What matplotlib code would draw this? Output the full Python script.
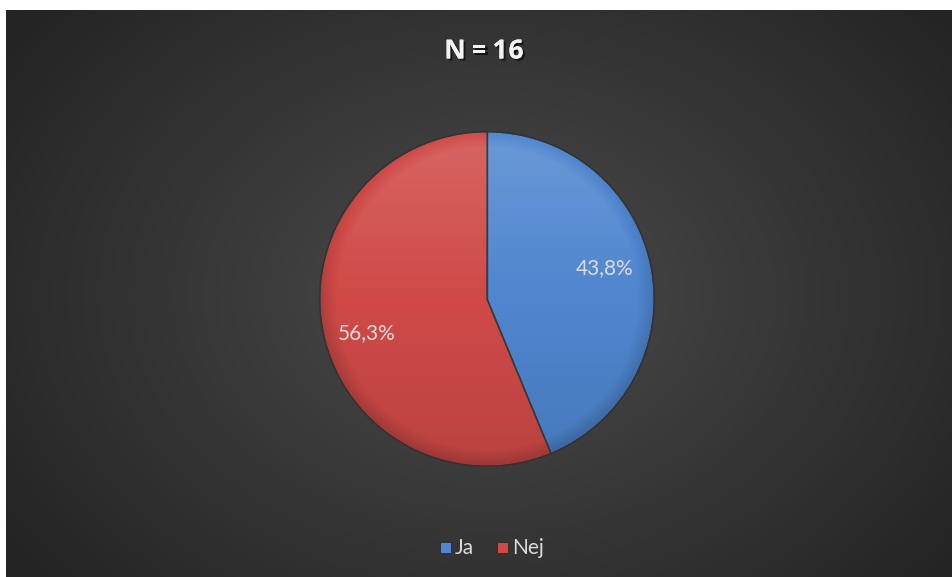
import numpy as np
import matplotlib
matplotlib.use("Agg")
import matplotlib.pyplot as plt
import matplotlib.patheffects as pe
from matplotlib.patches import Rectangle, Circle

# Survey answers (N=16)
categories = ["Ja", "Nej"]
counts = [7, 9]
pct_labels = ["43,8%", "56,3%"]
colors = ["#4f86cf", "#cf4a47"]
title = "N=16"

FONT = ["Lato", "DejaVu Sans"]
TITLE_FONT = ["Open Sans", "DejaVu Sans"]
W, H = 952, 577
fig = plt.figure(figsize=(W / 100, H / 100), dpi=100)
fig.patch.set_facecolor("white")

# Dark radial gradient panel
bg = fig.add_axes([6 / W, 0, (W - 6) / W, (H - 10) / H])
bg.set_axis_off()
ny, nx = 400, 660
yy, xx = np.mgrid[0:ny, 0:nx]
cx, cy = nx * 0.51, ny * 0.50
r = np.sqrt(((xx - cx) / (nx * 0.62)) ** 2 + ((yy - cy) / (ny * 0.78)) ** 2)
r = np.clip(r, 0, 1)
inner = np.array([0x4b, 0x4b, 0x4b]) / 255
outer = np.array([0x24, 0x24, 0x24]) / 255
img = inner[None, None, :] * (1 - r[..., None]) + outer[None, None, :] * r[..., None]
bg.imshow(img, aspect="auto", extent=[0, 1, 0, 1], interpolation="bilinear")
bg.set_xlim(0, 1)
bg.set_ylim(0, 1)

# Pie
cxp, cyp, rad = 487, 299, 169
ax = fig.add_axes([(cxp - rad) / W, (H - cyp - rad) / H, 2 * rad / W, 2 * rad / H])
ax.set_axis_off()
wedges, texts = ax.pie(
    counts,
    colors=colors,
    startangle=90,
    counterclock=False,
    radius=1.0,
    wedgeprops=dict(edgecolor="#3a3a3a", linewidth=1.0),
)

# Subtle shading: lighter on top, darker toward the bottom and the rim
n = 400
gy, gx = np.mgrid[1:-1:n * 1j, -1:1:n * 1j]
rr = np.sqrt(gx ** 2 + gy ** 2)
shade = np.zeros((n, n, 4))
light = np.clip(gy, 0, 1) * 0.16
dark = np.clip(-gy, 0, 1) * 0.10 + np.clip((rr - 0.90) / 0.10, 0, 1) * 0.15
shade[..., :3] = np.where((dark > light)[..., None], 0.0, 1.0)
shade[..., 3] = np.abs(light - dark)
im = ax.imshow(shade, extent=[-1, 1, -1, 1], zorder=3, interpolation="bilinear")
im.set_clip_path(Circle((0, 0), 1.0, transform=ax.transData))
ax.plot([0, 0], [0, 1], color="#3a3a3a", lw=1.0, zorder=4)
end = np.deg2rad(90 - 360 * counts[0] / sum(counts))
ax.plot([0, np.cos(end)], [0, np.sin(end)], color="#3a3a3a", lw=1.0, zorder=4)
ax.add_patch(Circle((0, 0), 1.0, fill=False, edgecolor="#333333", lw=1.0, zorder=4))

ax.set_xlim(-1.01, 1.01)
ax.set_ylim(-1.01, 1.01)
ax.set_aspect("equal")

# Percentage labels
label_pos = [(0.705, 0.185), (-0.72, -0.205)]
for (lx, ly), lab in zip(label_pos, pct_labels):
    ax.text(lx, ly, lab, ha="center", va="center", color="#dcdcdc",
            fontsize=15, family=FONT, zorder=5)

# Title, spaced out letter by letter
title_x = [455, 479, 500, 516]
for ch, x in zip(title, title_x):
    fig.text(x / W, 1 - 51 / H, ch, ha="center", va="center", color="#f2f2f2",
             fontsize=19, fontweight="bold", family=TITLE_FONT,
             path_effects=[pe.withSimplePatchShadow(offset=(1.5, -1.5), shadow_rgbFace="black", alpha=0.6),
                           pe.Normal()])

# Legend
leg_y = 1 - 548 / H
items = [(440, "Ja", colors[0]), (497, "Nej", colors[1])]
for x0, lab, col in items:
    fig.patches.append(Rectangle((x0 / W, leg_y - 5 / H), 11 / W, 11 / H, transform=fig.transFigure,
                                 facecolor=col, edgecolor="#2a2a2a", linewidth=0.6))
    fig.text((x0 + 15) / W, leg_y, lab, ha="left", va="center", color="#d9d9d9",
             fontsize=15, family=FONT)

fig.savefig("out.png", dpi=100, facecolor=fig.get_facecolor())
